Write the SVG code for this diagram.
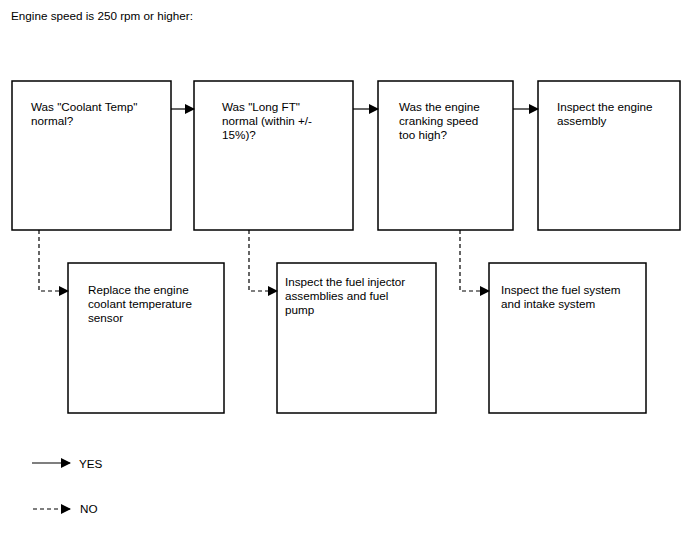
<svg xmlns="http://www.w3.org/2000/svg" width="688" height="560" viewBox="0 0 688 560">
<style>
.box{fill:#fff;stroke:#000;stroke-width:1.5}
.t{font-family:"Liberation Sans",Arial,sans-serif;font-size:11.7px;fill:#000}
.yes{fill:none;stroke:#000;stroke-width:1.2}
.no{fill:none;stroke:#000;stroke-width:1.2;stroke-dasharray:4 3}
</style>
<defs>
<marker id="ah" markerWidth="10" markerHeight="10" refX="9" refY="5" orient="auto" markerUnits="userSpaceOnUse">
<path d="M0,0 L10,5 L0,10 Z" fill="#000"/>
</marker>
</defs>
<rect width="688" height="560" fill="#fff"/>
<text class="t" x="11" y="20">Engine speed is 250 rpm or higher:</text>
<g id="n1"><rect class="box" x="12" y="81" width="159" height="149"/>
<text class="t" x="31" y="111">Was "Coolant Temp"</text><text class="t" x="31" y="125">normal?</text></g>
<g id="n2"><rect class="box" x="194" y="81" width="159" height="149"/>
<text class="t" x="222" y="111">Was "Long FT"</text><text class="t" x="222" y="125">normal (within +/-</text><text class="t" x="222" y="139">15%)?</text></g>
<g id="n3"><rect class="box" x="378" y="81" width="135" height="149"/>
<text class="t" x="399" y="111">Was the engine</text><text class="t" x="399" y="125">cranking speed</text><text class="t" x="399" y="139">too high?</text></g>
<g id="n4"><rect class="box" x="538" y="81" width="142" height="149"/>
<text class="t" x="557" y="111">Inspect the engine</text><text class="t" x="557" y="125">assembly</text></g>
<g id="n5"><rect class="box" x="68" y="263" width="156" height="150"/>
<text class="t" x="88" y="294">Replace the engine</text><text class="t" x="88" y="308">coolant temperature</text><text class="t" x="88" y="322">sensor</text></g>
<g id="n6"><rect class="box" x="277" y="263" width="159" height="150"/>
<text class="t" x="285" y="286">Inspect the fuel injector</text><text class="t" x="285" y="300">assemblies and fuel</text><text class="t" x="285" y="314">pump</text></g>
<g id="n7"><rect class="box" x="489" y="263" width="157" height="150"/>
<text class="t" x="501" y="294">Inspect the fuel system</text><text class="t" x="501" y="308">and intake system</text></g>
<g id="connectors">
<path class="yes" d="M171,109 L194,109" marker-end="url(#ah)"/>
<path class="yes" d="M353,109 L378,109" marker-end="url(#ah)"/>
<path class="yes" d="M513,109 L538,109" marker-end="url(#ah)"/>
<path class="no" d="M39,230 L39,291 L68,291" marker-end="url(#ah)"/>
<path class="no" d="M249,230 L249,291 L277,291" marker-end="url(#ah)"/>
<path class="no" d="M460,230 L460,291 L489,291" marker-end="url(#ah)"/>
</g>
<g id="legend">
<path class="yes" d="M32,463 L70,463" marker-end="url(#ah)"/>
<text class="t" x="79" y="468">YES</text>
<path class="no" d="M33,509 L70,509" marker-end="url(#ah)"/>
<text class="t" x="80" y="513">NO</text>
</g>
</svg>
